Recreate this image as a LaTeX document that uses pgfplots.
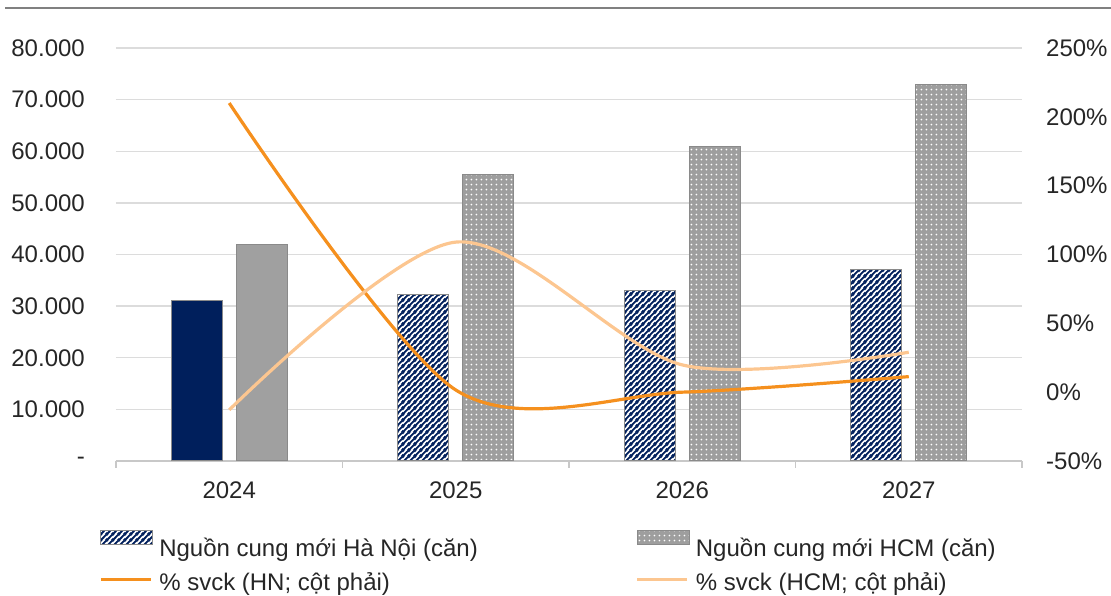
\documentclass[border=0pt]{standalone}
\usepackage{fontspec}
\setmainfont{Liberation Sans}
\usepackage{pgfplots}
\pgfplotsset{compat=1.18}
\usetikzlibrary{patterns.meta}

\definecolor{navy}{HTML}{001F5C}
\definecolor{hcmgray}{HTML}{A0A0A0}
\definecolor{dotgray}{HTML}{9E9E9E}
\definecolor{bordergray}{HTML}{8A8A8A}
\definecolor{hnorange}{HTML}{F5901E}
\definecolor{hcmpeach}{HTML}{FCC690}
\definecolor{gridgray}{HTML}{DCDCDC}
\definecolor{axisgray}{HTML}{C8C8C8}
\definecolor{topgray}{HTML}{808080}

\tikzdeclarepattern{
  name=navyhatch, type=colored,
  bounding box={(0pt,0pt) and (5.6pt,5.6pt)},
  tile size={(5.6pt,5.6pt)},
  code={
    \fill[white] (0pt,0pt) rectangle (5.6pt,5.6pt);
    \draw[navy, line width=1.9pt] (-1pt,-1pt) -- (6.6pt,6.6pt)
      (-1pt,4.6pt) -- (1pt,6.6pt) (4.6pt,-1pt) -- (6.6pt,1pt);
  }
}
\tikzdeclarepattern{
  name=whitedots, type=colored,
  bounding box={(0pt,0pt) and (5.4pt,5.4pt)},
  tile size={(5.4pt,5.4pt)},
  code={
    \fill[dotgray] (0pt,0pt) rectangle (5.4pt,5.4pt);
    \fill[white] (2.7pt,2.7pt) circle (1.05pt);
  }
}

\pgfplotsset{
  linelegend/.style={legend image code/.code={\draw[##1] (0pt,4.5pt) -- (50pt,4.5pt);}},
  barlegend/.style={legend image code/.code={\draw[##1] (0pt,6pt) rectangle (52pt,20pt);}},
}

\newcommand{\bigfont}{\fontsize{24}{28}\selectfont}

\begin{document}
\begin{tikzpicture}
\useasboundingbox (0,0) rectangle (1111pt,596pt);
\draw[topgray, line width=2.5pt] (5pt,588pt) -- (1111pt,588pt);

\begin{axis}[
  at={(116pt,135pt)}, anchor=south west,
  width=906pt, height=413pt, scale only axis,
  xmin=-0.5, xmax=3.5, ymin=0, ymax=80000,
  axis x line*=bottom, axis y line*=left,
  y axis line style={draw=none},
  x axis line style={axisgray, line width=1.5pt},
  xtick={0,1,2,3}, xticklabels={2024,2025,2026,2027},
  minor xtick={-0.5,0.5,1.5,2.5,3.5},
  major tick length=0pt, minor tick length=7pt, tick align=outside,
  minor tick style={axisgray, line width=1.5pt},
  ytick={0,10000,20000,30000,40000,50000,60000,70000,80000},
  yticklabels={{-\hspace{13pt}},10.000,20.000,30.000,40.000,50.000,60.000,70.000,80.000},
  scaled y ticks=false,
  ymajorgrids, grid style={gridgray, line width=1.3pt},
  tick label style={font=\bigfont, text=black!85},
  yticklabel style={anchor=east, inner sep=0pt, xshift=-31pt},
  xticklabel style={anchor=north, inner sep=0pt, yshift=-21pt},
]
\addplot[ybar, bar width=51pt, bar shift=-32.5pt, draw=bordergray, line width=1pt, fill=navy]
  coordinates {(0,31000)};
\addplot[ybar, bar width=51pt, bar shift=-32.5pt, draw=bordergray, line width=1pt, pattern=navyhatch]
  coordinates {(1,32300) (2,33100) (3,37000)};
\addplot[ybar, bar width=51pt, bar shift=32.5pt, draw=bordergray, line width=1pt, fill=hcmgray]
  coordinates {(0,41900)};
\addplot[ybar, bar width=51pt, bar shift=32.5pt, draw=bordergray, line width=1pt, pattern=whitedots]
  coordinates {(1,55400) (2,61000) (3,73000)};
\end{axis}

\begin{axis}[
  at={(116pt,135pt)}, anchor=south west,
  width=906pt, height=413pt, scale only axis,
  xmin=-0.5, xmax=3.5, ymin=-50, ymax=250,
  axis x line=none, axis y line*=right,
  y axis line style={draw=none},
  major tick length=0pt,
  ytick={-50,0,50,100,150,200,250},
  yticklabels={-50\%,0\%,50\%,100\%,150\%,200\%,250\%},
  tick label style={font=\bigfont, text=black!85},
  yticklabel style={anchor=west, inner sep=0pt, xshift=24pt},
  legend columns=2,
  legend cell align=left,
  legend style={
    at={(-0.0188,-0.1659)}, anchor=north west,
    draw=none, fill=none, inner sep=0pt,
    font=\bigfont, text=black!85,
    nodes={inner sep=3pt, text height=18pt, text depth=5pt},
    row sep=5pt,
    /tikz/every odd column/.append style={column sep=3pt},
    /tikz/every even column/.append style={column sep=155pt},
  },
]
\addlegendimage{barlegend, draw=bordergray, line width=1pt, pattern=navyhatch}
\addlegendentry{Nguồn cung mới Hà Nội (căn)}
\addlegendimage{barlegend, draw=bordergray, line width=1pt, pattern=whitedots}
\addlegendentry{Nguồn cung mới HCM (căn)}
\addplot[hnorange, line width=3.2pt, smooth, linelegend]
  coordinates {(0,210) (1,1.6) (2,0) (3,11.3)};
\addlegendentry{\% svck (HN; cột phải)}
\addplot[hcmpeach, line width=3.2pt, smooth, linelegend]
  coordinates {(0,-12.9) (1,109) (2,19.8) (3,29)};
\addlegendentry{\% svck (HCM; cột phải)}
\end{axis}
\end{tikzpicture}
\end{document}
